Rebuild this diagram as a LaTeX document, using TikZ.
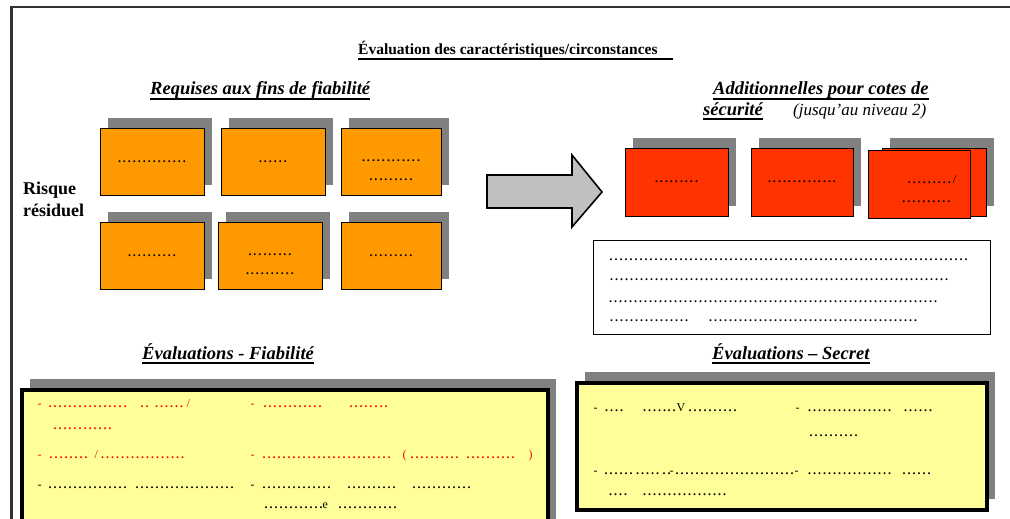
\documentclass[tikz,border=0pt]{standalone}
\usepackage{fontspec}
\setmainfont{Liberation Serif}
\usetikzlibrary{shadows}

\definecolor{orangecarte}{HTML}{FF9900}
\definecolor{rougecarte}{HTML}{FF3300}
\definecolor{jaunecadre}{HTML}{FFFF99}
\definecolor{ombre}{HTML}{808080}
\definecolor{flechegris}{HTML}{C0C0C0}
\definecolor{cadregris}{HTML}{333333}
\definecolor{rougetexte}{HTML}{FF0000}

% pointilles : largeur en px, puis segments places depuis le bord gauche
\newcommand\pts[1]{\hbox to #1pt{\cleaders\hbox to 5pt{\hss\textbf{.}\hss}\hfill}}
\newcommand\seg[2]{\rlap{\hskip#1pt\pts{#2}}}
\newcommand\car[2]{\rlap{\hskip#1pt #2}}

\tikzset{
  carte/.style={draw=black, line width=1pt, minimum width=104pt, minimum height=67pt,
    inner sep=0pt, align=center, font=\fontsize{12}{19}\selectfont},
  ombree/.style={drop shadow={shadow xshift=8pt, shadow yshift=10pt, fill=ombre, opacity=1}},
  cartefiab/.style={carte, ombree, fill=orangecarte},
  cartesecu/.style={carte, fill=rougecarte},
  cadrejaune/.style={draw=black, line width=3.5pt, fill=jaunecadre, inner sep=0pt,
    drop shadow={shadow xshift=8pt, shadow yshift=11pt, fill=ombre, opacity=1}},
  titre/.style={anchor=base west, inner sep=0pt, font=\bfseries\itshape\fontsize{18.5}{21}\selectfont},
  souligne/.style={line width=1.3pt},
  ligne/.style={anchor=base west, inner sep=0pt, font=\fontsize{12}{14}\selectfont},
}

\begin{document}
\begin{tikzpicture}[x=1pt, y=-1pt]
  \useasboundingbox (0,0) rectangle (1010,519);
  \clip (0,0) rectangle (1010,519);

  % cadre de la page
  \draw[cadregris, line width=2.5pt] (11.5,530) |- (1015,7);

  % titres
  \node[anchor=base west, inner sep=0pt, font=\bfseries\fontsize{15.5}{17}\selectfont] (titre) at (358,55)
    {Évaluation des caractéristiques/circonstances};
  \draw[souligne] ([yshift=-4pt]titre.base west) -- ([xshift=15pt,yshift=-4pt]titre.base east);

  \node[titre] (req) at (150,95) {Requises aux fins de fiabilité};
  \draw[souligne] ([yshift=-4pt]req.base west) -- ([yshift=-4pt]req.base east);
  \node[titre] (add) at (713,95) {Additionnelles pour cotes de};
  \draw[souligne] ([yshift=-4pt]add.base west) -- ([yshift=-4pt]add.base east);
  \node[titre] (secu) at (703,115) {sécurité};
  \draw[souligne] ([yshift=-4pt]secu.base west) -- ([yshift=-4pt]secu.base east);
  \node[anchor=base west, inner sep=0pt, font=\itshape\fontsize{17}{19}\selectfont] (niv) at (793,115)
    {(jusqu’au niveau 2)};

  \node[anchor=base west, inner sep=0pt, align=left, font=\bfseries\fontsize{18}{22}\selectfont] (risque) at (23,216)
    {Risque\\résiduel};

  % cartes orange
  \node[cartefiab] (f11) at (152,161.5) {\pts{73}};
  \node[cartefiab] (f12) at (273,161.5) {\pts{32}};
  \node[cartefiab, minimum width=100pt] (f13) at (391,161.5) {\mbox{}\\\pts{62}\\\pts{48}};
  \node[cartefiab] (f21) at (152,255.5) {\pts{53}};
  \node[cartefiab] (f22) at (270,255.5) {\mbox{}\\\pts{48}\\\pts{53}};
  \node[cartefiab, minimum width=100pt] (f23) at (391,255.5) {\pts{49}};

  % fleche
  \draw[line width=1.6pt, fill=flechegris, line join=miter]
    (487,175) -- (572,175) -- (572,155) -- (602,192) -- (572,227) -- (572,208) -- (487,208) -- cycle;

  % cartes rouges
  \node[cartesecu, ombree, minimum width=103pt, minimum height=68pt] (s1) at (676.5,182) {\pts{48}};
  \node[cartesecu, ombree, minimum width=102pt, minimum height=68pt] (s2) at (802,182) {\pts{70}};
  \node[cartesecu, ombree, minimum width=104pt, minimum height=68pt] (s3b) at (934,182) {};
  \node[cartesecu, minimum width=102pt, minimum height=68pt, align=left] (s3) at (919,184)
    {\mbox{}\\\hspace*{24pt}\pts{47}/\\\hspace*{18pt}\pts{53}};

  % cadre blanc
  \node[draw=black, line width=1pt, fill=white, minimum width=397pt, minimum height=94pt] (notes) at (791.5,287) {};
  \node[ligne] (w1) at (0,260) {\seg{607}{362}};
  \node[ligne] (w2) at (0,280) {\seg{607}{343}};
  \node[ligne] (w3) at (0,302) {\seg{607}{331}};
  \node[ligne] (w4) at (0,321) {\seg{607}{83}\seg{706}{213}};

  % evaluations
  \node[titre] (evf) at (142,359) {Évaluations - Fiabilité};
  \draw[souligne] ([yshift=-4pt]evf.base west) -- ([yshift=-4pt]evf.base east);
  \node[titre] (evs) at (712,359) {Évaluations – Secret};
  \draw[souligne] ([yshift=-4pt]evs.base west) -- ([yshift=-4pt]evs.base east);

  \node[cadrejaune, minimum width=526pt, minimum height=170pt] (fiab) at (285,475) {};
  \node[ligne, text=rougetexte] (fl1) at (0,407)
    {\car{37}{-}\seg{47}{80}\seg{138}{12}\seg{152}{33}\car{186}{/}\car{250}{-}\seg{260}{64}\seg{346}{44}};
  \node[ligne, text=rougetexte] (fl2) at (0,429) {\seg{50}{64}};
  \node[ligne, text=rougetexte] (fl3) at (0,458)
    {\car{37}{-}\seg{47}{42}\car{94}{/}\seg{99}{86}\car{250}{-}\seg{260}{132}\car{402}{(}\seg{408}{52}\seg{465}{50}\car{528}{)}};
  \node[ligne] (fl4) at (0,488)
    {\car{37}{-}\seg{47}{80}\seg{134}{100}\car{250}{-}\seg{260}{72}\seg{345}{52}\seg{410}{62}};
  \node[ligne] (fl5) at (0,508) {\seg{263}{60}\car{322}{e}\seg{336}{62}};

  \node[cadrejaune, minimum width=410pt, minimum height=127pt] (secr) at (782,446.5) {};
  \node[ligne] (sl1) at (0,411)
    {\car{593}{-}\seg{603}{21}\seg{640}{28}\seg{666}{10}\car{676}{V}\seg{687}{50}\car{795}{-}\seg{805}{88}\seg{901}{33}};
  \node[ligne] (sl2) at (0,436) {\seg{807}{52}};
  \node[ligne] (sl3) at (0,474)
    {\car{593}{-}\seg{603}{30}\seg{633}{28}\seg{661}{10}\car{669}{-}\seg{674}{120}\car{794}{-}\seg{805}{88}\seg{901}{30}};
  \node[ligne] (sl4) at (0,495) {\seg{606}{23}\seg{640}{88}};
\end{tikzpicture}
\end{document}
